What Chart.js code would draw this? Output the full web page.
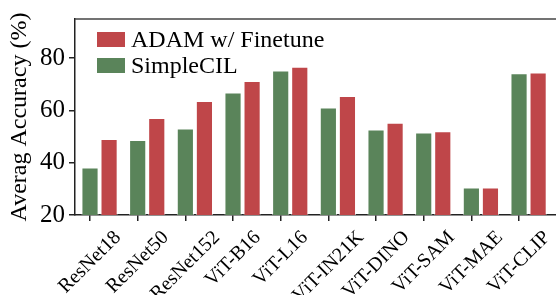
<!DOCTYPE html>
<html>
<head>
<meta charset="utf-8">
<script src="https://cdn.jsdelivr.net/npm/chart.js@4/dist/chart.umd.min.js"></script>
<style>
  body { margin: 0; background: #fff; }
</style>
</head>
<body>
<canvas id="acc_chart" width="556" height="295"></canvas>
<script>
// 横軸のモデル名
const models = ["ResNet18", "ResNet50", "ResNet152", "ViT-B16", "ViT-L16", "ViT-IN21K", "ViT-DINO", "ViT-SAM", "ViT-MAE", "ViT-CLIP"];
// 各手法の精度(%)
const simplecil = [38.2, 48.7, 53.1, 66.9, 75.3, 61.1, 52.7, 51.6, 30.5, 74.2];
const adam_ft = [49.1, 57.1, 63.6, 71.3, 76.7, 65.5, 55.3, 52.0, 30.5, 74.5];
const y_ticks = [20, 40, 60, 80];

const serif = '"Liberation Serif", "Times New Roman", serif';
const green = "#5a845a";
const red = "#bf4649";

// 凡例をプロット内に描く
const legendInside = {
    id: "legendInside",
    afterDatasetsDraw(chart) {
        const ctx = chart.ctx;
        const items = [chart.data.datasets[1], chart.data.datasets[0]];
        ctx.save();
        ctx.font = "24px " + serif;
        ctx.textBaseline = "middle";
        items.forEach((ds, i) => {
            const y = 40 + i * 26;
            ctx.fillStyle = ds.backgroundColor;
            ctx.fillRect(97, y - 8, 28, 15);
            ctx.fillStyle = "#000";
            ctx.fillText(ds.label, 131, y + 1);
        });
        ctx.restore();
    }
};

// 上枠と回転したx軸ラベル
const frameAndLabels = {
    id: "frameAndLabels",
    afterDraw(chart) {
        const ctx = chart.ctx;
        const area = chart.chartArea;
        const xs = chart.scales.x;
        ctx.save();
        ctx.strokeStyle = "#444";
        ctx.lineWidth = 1.5;
        ctx.beginPath();
        ctx.moveTo(area.left, area.top);
        ctx.lineTo(area.right, area.top);
        ctx.stroke();

        ctx.font = "20px " + serif;
        ctx.fillStyle = "#000";
        ctx.textAlign = "center";
        ctx.textBaseline = "middle";
        models.forEach((name, i) => {
            const w = ctx.measureText(name).width;
            const d = (w + 18) * Math.SQRT1_2;
            ctx.save();
            ctx.translate(xs.getPixelForValue(i), area.bottom + 13 + d / 2);
            ctx.rotate(-Math.PI / 4);
            ctx.fillText(name, 0, 0);
            ctx.restore();
        });
        ctx.restore();
    }
};

const ctx = document.getElementById("acc_chart").getContext("2d");

new Chart(ctx, {
    type: "bar",
    data: {
        datasets: [
            {
                label: "SimpleCIL",
                backgroundColor: green,
                borderColor: "rgba(255,255,255,0.6)",
                borderWidth: 1,
                data: simplecil.map((v, i) => ({ x: i + 0.2, y: v })),
            },
            {
                label: "ADAM w/ Finetune",
                backgroundColor: red,
                borderColor: "rgba(255,255,255,0.6)",
                borderWidth: 1,
                data: adam_ft.map((v, i) => ({ x: i + 0.2, y: v })),
            },
        ],
    },
    options: {
        responsive: false,
        animation: false,
        categoryPercentage: 0.8,
        barPercentage: 0.9,
        layout: { padding: { top: 9, right: 0, left: 0, bottom: 0 } },
        plugins: {
            legend: { display: false },
            tooltip: { enabled: false },
        },
        scales: {
            x: {
                type: "linear",
                offset: false,
                min: -0.315,
                max: 9.775,
                afterBuildTicks: (s) => { s.ticks = models.map((m, i) => ({ value: i })); },
                afterFit: (s) => { s.height = 80; },
                ticks: { display: false },
                grid: { offset: false, drawOnChartArea: false, drawTicks: true, tickLength: 6, color: "#222", lineWidth: 1.5 },
                border: { display: true, color: "#222", width: 1.5 },
            },
            y: {
                min: 20,
                max: 95,
                afterBuildTicks: (s) => { s.ticks = y_ticks.map((v) => ({ value: v })); },
                afterFit: (s) => { s.width = 75; },
                ticks: { font: { family: serif, size: 25 }, color: "#000", padding: 4 },
                grid: { drawOnChartArea: false, drawTicks: true, tickLength: 6, color: "#222", lineWidth: 1.5 },
                border: { display: true, color: "#222", width: 1.5 },
                title: {
                    display: true,
                    text: "Averag Accuracy (%)",
                    font: { family: serif, size: 24 },
                    color: "#000",
                    padding: { top: 5, bottom: 0 },
                },
            },
        },
    },
    plugins: [legendInside, frameAndLabels],
});
</script>
</body>
</html>
